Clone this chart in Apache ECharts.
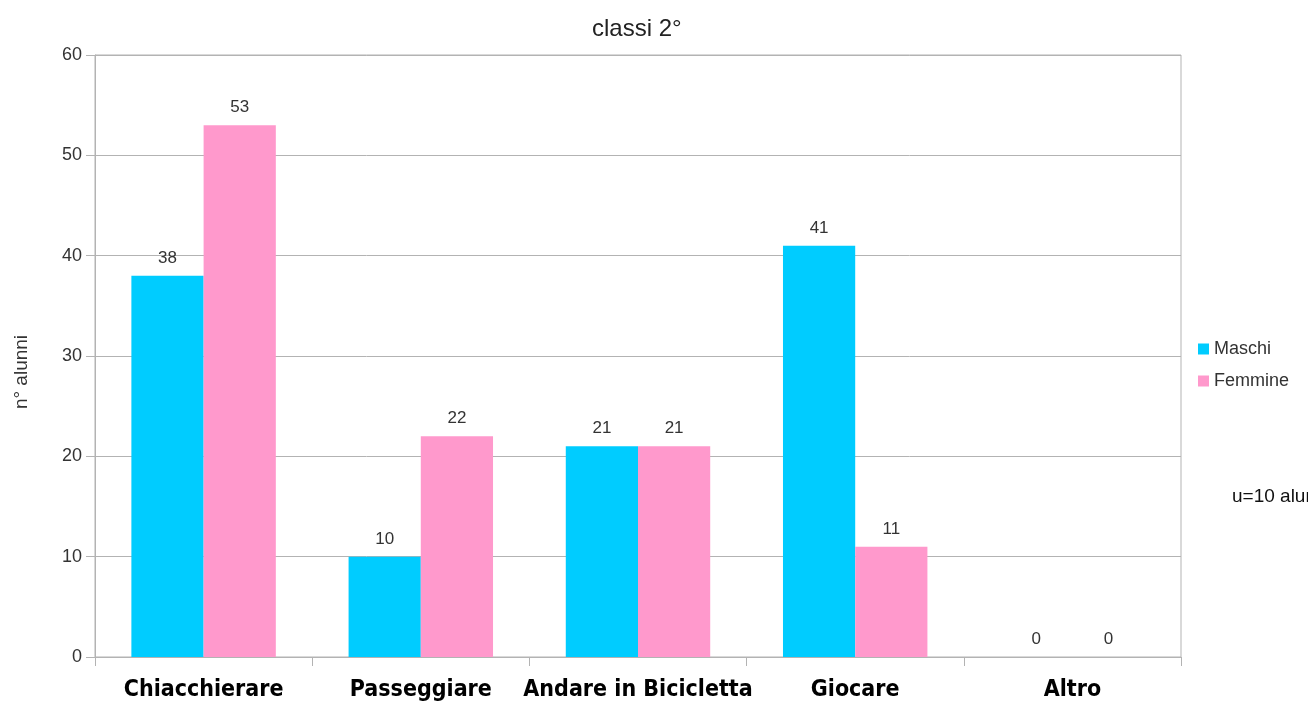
<!DOCTYPE html>
<html><head><meta charset="utf-8">
<script src="https://cdn.jsdelivr.net/npm/echarts@6/dist/echarts.min.js"></script>
<style>html,body{margin:0;padding:0;background:#fff}#c{width:1308px;height:702px}</style>
</head><body><div id="c"></div>
<script>
var categories = ['Chiacchierare', 'Passeggiare', 'Andare in Bicicletta', 'Giocare', 'Altro'];
var maschi = [38, 10, 21, 41, 0];
var femmine = [53, 22, 21, 11, 0];
var yTicks = [0, 10, 20, 30, 40, 50, 60];

var NF = '"Liberation Sans", Arial, sans-serif';
var chart = echarts.init(document.getElementById('c'));
var lbl = {show: true, position: 'top', color: '#333', fontSize: 17, fontFamily: NF, distance: 9};
chart.setOption({
  animation: false,
  title: {text: 'classi 2°', left: 587, top: 12,
    textStyle: {fontSize: 24, fontWeight: 'normal', color: '#222', fontFamily: NF}},
  legend: {orient: 'vertical', left: 1193, top: 335, itemWidth: 11, itemHeight: 11, itemGap: 14,
    icon: 'rect', textStyle: {fontSize: 18, color: '#333', fontFamily: NF}, data: ['Maschi', 'Femmine']},
  grid: {left: 95, right: 127, top: 55, bottom: 44, show: true, borderColor: '#b3b3b3', borderWidth: 1},
  xAxis: {type: 'category', data: categories,
    axisLine: {lineStyle: {color: '#b3b3b3'}},
    axisTick: {show: true, length: 9, lineStyle: {color: '#b3b3b3'}},
    axisLabel: {fontSize: 23, fontWeight: 'bold', color: '#000', fontFamily: 'DejaVu Sans Condensed', margin: 22, interval: 0}},
  yAxis: {type: 'value', min: yTicks[0], max: yTicks[yTicks.length - 1], interval: 10,
    name: 'n° alunni', nameLocation: 'middle', nameGap: 64, nameRotate: 90,
    nameTextStyle: {fontSize: 19, color: '#333', fontFamily: NF, padding: [0, 0, 0, -32]},
    axisLine: {show: true, lineStyle: {color: '#b3b3b3'}},
    axisTick: {show: true, length: 9, lineStyle: {color: '#b3b3b3'}},
    splitLine: {lineStyle: {color: '#b3b3b3'}},
    axisLabel: {fontSize: 18, color: '#333', fontFamily: NF, margin: 13}},
  series: [
    {name: 'Maschi', type: 'bar', data: maschi, barGap: '0%', barCategoryGap: '33.5%',
      itemStyle: {color: '#00ccff'}, label: lbl},
    {name: 'Femmine', type: 'bar', data: femmine,
      itemStyle: {color: '#ff99cc'}, label: lbl}
  ],
  graphic: [{type: 'text', left: 1232, top: 487, style: {text: 'u=10 alunni', fontSize: 19, fill: '#111', fontFamily: NF}}]
});
</script></body></html>
